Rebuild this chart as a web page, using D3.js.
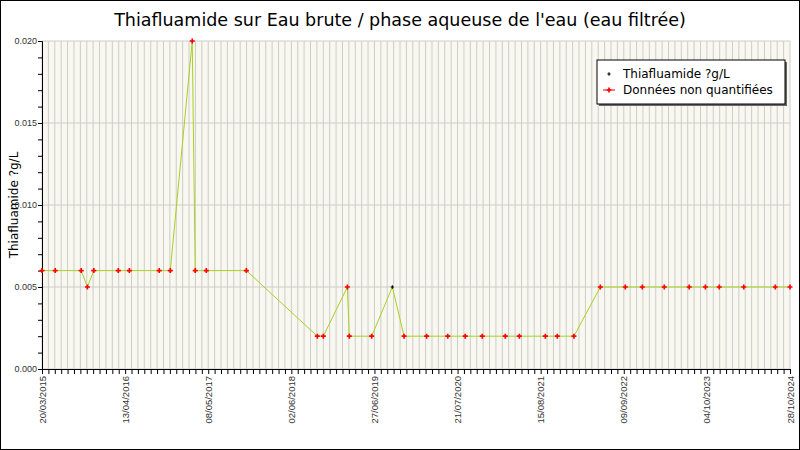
<!DOCTYPE html>
<html><head><meta charset="utf-8">
<script src="https://cdn.jsdelivr.net/npm/d3@7"></script>
<style>body{margin:0;background:#fff}svg{display:block;font-family:"DejaVu Sans",sans-serif}</style>
</head><body><svg id="chart"></svg>
<script>
// sample dates, values and whether each was quantified
const dates = ["2015-03-20","2015-05-21","2015-09-20","2015-10-19","2015-11-18","2016-03-12","2016-05-03","2016-09-20","2016-11-11","2017-02-22","2017-03-08","2017-04-29","2017-11-03","2018-10-02","2018-10-30","2019-02-20","2019-03-01","2019-06-14","2019-09-19","2019-11-13","2020-02-27","2020-06-05","2020-08-26","2020-11-14","2021-03-02","2021-05-07","2021-09-06","2021-11-01","2022-01-18","2022-05-22","2022-09-16","2022-12-05","2023-03-18","2023-07-13","2023-09-27","2023-12-01","2024-03-25","2024-08-20","2024-10-28"];
const values = [0.006,0.006,0.006,0.005,0.006,0.006,0.006,0.006,0.006,0.020,0.006,0.006,0.006,0.002,0.002,0.005,0.002,0.002,0.005,0.002,0.002,0.002,0.002,0.002,0.002,0.002,0.002,0.002,0.002,0.005,0.005,0.005,0.005,0.005,0.005,0.005,0.005,0.005,0.005];
const quantified = [0,0,0,0,0,0,0,0,0,0,0,0,0,0,0,0,0,0,1,0,0,0,0,0,0,0,0,0,0,0,0,0,0,0,0,0,0,0,0];
const xTickLabels = ["20/03/2015","13/04/2016","08/05/2017","02/06/2018","27/06/2019","21/07/2020","15/08/2021","09/09/2022","04/10/2023","28/10/2024"];
const yTicks = [0, 0.005, 0.010, 0.015, 0.020];

const W = 800, H = 450;
const margin = {top: 41, right: 10, bottom: 81, left: 42};
const width = W - margin.left - margin.right, height = H - margin.top - margin.bottom;
const parse = d3.timeParse("%Y-%m-%d"), parseFr = d3.timeParse("%d/%m/%Y");
const data = dates.map((d, i) => ({date: parse(d), value: values[i], q: quantified[i]}));

const svg = d3.select("#chart").attr("width", W).attr("height", H);
svg.append("rect").attr("x", 0.5).attr("y", 0.5).attr("width", W - 1).attr("height", H - 1)
  .attr("fill", "#fff").attr("stroke", "#000");

svg.append("text").attr("x", W / 2).attr("y", 26).attr("text-anchor", "middle")
  .attr("font-size", 17.5).text("Thiafluamide sur Eau brute / phase aqueuse de l'eau (eau filtrée)");

const start = parseFr(xTickLabels[0]), end = parseFr(xTickLabels[xTickLabels.length - 1]);
const x = d3.scaleTime().domain([start, end]).range([0, width]);
const y = d3.scaleLinear().domain([0, 0.02]).range([height, 0]);

const chart = svg.append("g").attr("transform", `translate(${margin.left},${margin.top})`);
chart.append("rect").attr("width", width).attr("height", height).attr("fill", "#f8f8f0");

// minor ticks every 30 days
const minor = d3.range(0, 3511, 30).map(d => d3.timeDay.offset(start, d));
chart.selectAll(".vgrid").data(minor).join("line")
  .attr("x1", d => x(d)).attr("x2", d => x(d)).attr("y1", 0).attr("y2", height)
  .attr("stroke", "#cccccc");
chart.selectAll(".hgrid").data(yTicks).join("line")
  .attr("x1", 0).attr("x2", width).attr("y1", d => y(d)).attr("y2", d => y(d))
  .attr("stroke", "#cccccc");

chart.append("g").attr("transform", `translate(0,${height})`)
  .call(d3.axisBottom(x).tickValues(minor).tickSize(5).tickFormat(""));
chart.append("g").attr("transform", `translate(0,${height})`)
  .call(d3.axisBottom(x).tickValues(xTickLabels.map(parseFr)).tickSize(0).tickFormat(d3.timeFormat("%d/%m/%Y")))
  .call(g => g.select(".domain").remove())
  .selectAll("text").attr("transform", "rotate(-90)").attr("text-anchor", "end")
  .attr("x", -7).attr("y", 0).attr("dy", "0.32em").attr("font-size", 9.5).attr("fill", "#333");

chart.append("g").call(d3.axisLeft(y).ticks(20).tickSize(4).tickFormat(""));
chart.append("g").call(d3.axisLeft(y).tickValues(yTicks).tickSize(0).tickPadding(5).tickFormat(d3.format(".3f")))
  .call(g => g.select(".domain").remove())
  .selectAll("text").attr("font-size", 9).attr("fill", "#333");
chart.selectAll(".domain").attr("stroke", "#000");

svg.append("text").attr("transform", `translate(18,${margin.top + height / 2}) rotate(-90)`)
  .attr("text-anchor", "middle").attr("font-size", 12).text("Thiafluamide ?g/L");

chart.append("path").datum(data)
  .attr("d", d3.line().x(d => x(d.date)).y(d => y(d.value)))
  .attr("fill", "none").attr("stroke", "#a8d020").attr("stroke-width", 1);

const plus = d3.symbol().type(d3.symbolCross);
chart.selectAll(".pt").data(data).join("path")
  .attr("transform", d => `translate(${x(d.date)},${y(d.value)})`)
  .attr("d", d => plus.size(d.q ? 6 : 14)())
  .attr("fill", d => d.q ? "#000" : "#ff0000");

// legend
const lg = svg.append("g").attr("transform", "translate(597,60)");
lg.append("rect").attr("x", 2).attr("y", 2).attr("width", 188).attr("height", 44).attr("fill", "#666");
lg.append("rect").attr("width", 188).attr("height", 44).attr("fill", "#fff").attr("stroke", "#000");
lg.append("path").attr("transform", "translate(12,14)").attr("d", plus.size(6)()).attr("fill", "#000");
lg.append("line").attr("x1", 6).attr("x2", 18).attr("y1", 30).attr("y2", 30).attr("stroke", "#ff0000");
lg.append("path").attr("transform", "translate(12,30)").attr("d", plus.size(14)()).attr("fill", "#ff0000");
lg.append("text").attr("x", 26).attr("y", 18).attr("font-size", 12).text("Thiafluamide ?g/L");
lg.append("text").attr("x", 26).attr("y", 34).attr("font-size", 12).text("Données non quantifiées");
</script></body></html>
